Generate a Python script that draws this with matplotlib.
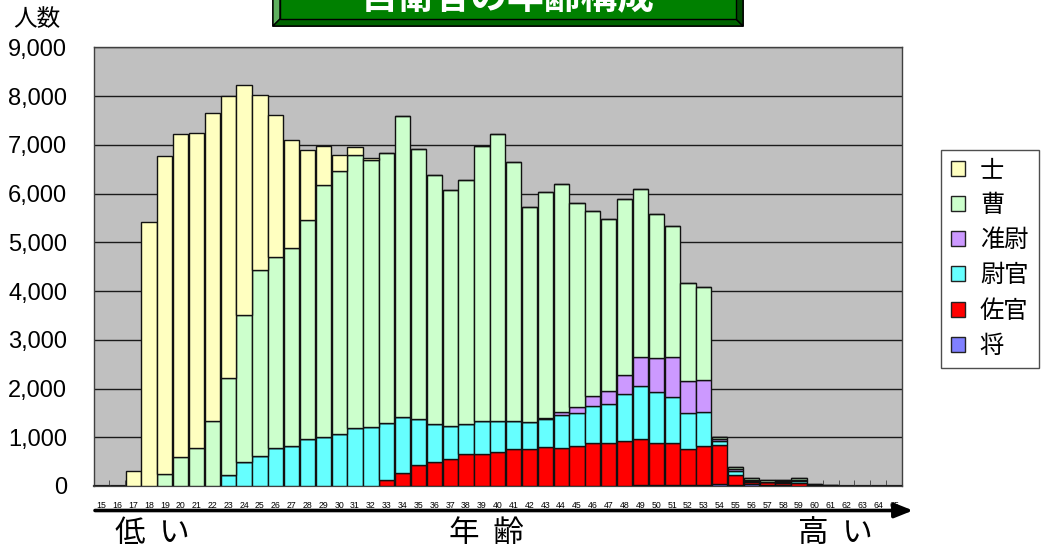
import matplotlib
matplotlib.use("Agg")
import matplotlib.pyplot as plt
from matplotlib.patches import Polygon, Patch
from matplotlib.ticker import FuncFormatter, MultipleLocator
import numpy as np

plt.rcParams['font.family'] = ['Liberation Sans', 'Noto Sans CJK JP', 'DejaVu Sans']

# ---------------- data ----------------
ages = list(range(15, 66))

def series(d):
    return [d.get(a, 0) for a in ages]

shi = series({17: 300, 18: 5420, 19: 6520, 20: 6620, 21: 6470, 22: 6320, 23: 5780,
              24: 4730, 25: 3590, 26: 2920, 27: 2200, 28: 1450, 29: 800, 30: 320,
              31: 150, 32: 30})
sou = series({19: 250, 20: 600, 21: 780, 22: 1330, 23: 1990, 24: 3000, 25: 3810,
              26: 3920, 27: 4070, 28: 4480, 29: 5170, 30: 5400, 31: 5600, 32: 5470,
              33: 5550, 34: 6180, 35: 5540, 36: 5120, 37: 4830, 38: 5000, 39: 5640,
              40: 5890, 41: 5310, 42: 4410, 43: 4640, 44: 4670, 45: 4170, 46: 3800,
              47: 3530, 48: 3620, 49: 3440, 50: 2950, 51: 2690, 52: 2020, 53: 1910,
              54: 40, 55: 45, 56: 50, 57: 40, 58: 20, 59: 40, 60: 20, 61: 10})
junni = series({43: 30, 44: 75, 45: 140, 46: 200, 47: 270, 48: 380, 49: 600, 50: 700,
                51: 830, 52: 660, 53: 660, 54: 40, 55: 40, 56: 20, 58: 30, 59: 30})
ikan = series({23: 230, 24: 500, 25: 620, 26: 770, 27: 820, 28: 970, 29: 1000,
               30: 1070, 31: 1200, 32: 1220, 33: 1170, 34: 1150, 35: 950, 36: 770,
               37: 690, 38: 620, 39: 690, 40: 640, 41: 590, 42: 570, 43: 570, 44: 680,
               45: 670, 46: 770, 47: 800, 48: 970, 49: 1080, 50: 1050, 51: 940,
               52: 740, 53: 700, 54: 75, 55: 70, 56: 20, 58: 20, 59: 40})
sakan = series({33: 120, 34: 270, 35: 430, 36: 500, 37: 550, 38: 650, 39: 650,
                40: 700, 41: 750, 42: 750, 43: 800, 44: 770, 45: 820, 46: 880, 47: 880,
                48: 920, 49: 950, 50: 860, 51: 860, 52: 730, 53: 800, 54: 790, 55: 210,
                56: 30, 57: 70, 58: 40, 59: 50, 60: 20, 61: 10})
shou = series({49: 20, 50: 20, 51: 20, 52: 20, 53: 20, 54: 50, 55: 20, 56: 50,
               57: 20, 58: 20, 59: 10})

# bottom -> top stacking order
stack_names = ['将', '佐官', '尉官', '准尉', '曹', '士']
stack_values = [shou, sakan, ikan, junni, sou, shi]
stack_colors = ['#8080FF', '#FF0000', '#66FFFF', '#CC99FF', '#CCFFCC', '#FFFFC0']

title = '自衛官の年齢構成'
ylabel = '人数'
x_words = ['低  い', '年  齢', '高  い']

# ---------------- figure ----------------
W, H = 1045, 557
fig = plt.figure(figsize=(W / 100, H / 100), dpi=100)
fig.patch.set_facecolor('white')

def fx(px):
    return px / W

def fy(py):
    return 1 - py / H

ax = fig.add_axes([fx(93.5), fy(486), fx(902) - fx(93.5), fy(47.3) - fy(486)])
ax.set_facecolor('#C0C0C0')

x = np.arange(len(ages))
bottom = np.zeros(len(ages))
for name, vals, col in zip(stack_names, stack_values, stack_colors):
    v = np.array(vals, dtype=float)
    ax.bar(x, v, bottom=bottom, width=0.96, color=col, edgecolor='#111111',
           linewidth=1.0, zorder=3)
    bottom += v

ax.set_xlim(-0.5, len(ages) - 0.5)
ax.set_ylim(0, 9000)
ax.yaxis.set_major_locator(MultipleLocator(1000))
ax.yaxis.set_major_formatter(FuncFormatter(lambda v, p: f'{int(v):,}'))
ax.grid(axis='y', color='#1a1a1a', linewidth=1.0, zorder=1)
ax.set_axisbelow(True)
ax.tick_params(axis='y', length=0, pad=19, labelsize=17)

ax.set_xticks(x)
ax.set_xticklabels([str(a) for a in ages], fontsize=6.3)
ax.set_xticks(np.arange(len(ages) + 1) - 0.5, minor=True)
ax.tick_params(axis='x', which='major', length=0, pad=11)
ax.tick_params(axis='x', which='minor', direction='in', length=4, color='#404040')

for s in ['left', 'top', 'right']:
    ax.spines[s].set_color('#404040')
    ax.spines[s].set_linewidth(1.0)
ax.spines['bottom'].set_color('#404040')
ax.spines['bottom'].set_linewidth(1.6)

# legend
handles = [Patch(facecolor=c, edgecolor='#222222', linewidth=1.0)
           for c in stack_colors[::-1]]
leg = fig.legend(handles, stack_names[::-1], loc='upper left',
                 bbox_to_anchor=(fx(941), fy(150)), frameon=True, fancybox=False,
                 fontsize=17.5, handlelength=0.58, handleheight=0.58,
                 handletextpad=0.6, labelspacing=0.52, borderpad=0.42,
                 borderaxespad=0)
leg.get_frame().set_edgecolor('#222222')
leg.get_frame().set_linewidth(1.0)

# y label
fig.text(fx(37), fy(20), ylabel, fontsize=17, ha='center', va='center',
         family=['Noto Sans CJK JP'])

# title box with bevel
L, R, B, T = 273, 743, 26, -12
bev = 7
outer = [(fx(L), fy(T)), (fx(R), fy(T)), (fx(R), fy(B)), (fx(L), fy(B))]
inner = [(fx(L + bev), fy(T)), (fx(R - bev), fy(T)), (fx(R - bev), fy(B - bev)),
         (fx(L + bev), fy(B - bev))]
fig.add_artist(Polygon(outer, closed=True, facecolor='#007000', edgecolor='black',
                       linewidth=1.2, transform=fig.transFigure))
fig.add_artist(Polygon([outer[0], inner[0], inner[3], outer[3]], closed=True,
                       facecolor='#5FAF5F', edgecolor='black', linewidth=1.0,
                       transform=fig.transFigure))
fig.add_artist(Polygon([outer[3], inner[3], inner[2], outer[2]], closed=True,
                       facecolor='#006400', edgecolor='black', linewidth=1.0,
                       transform=fig.transFigure))
fig.add_artist(Polygon([outer[2], inner[2], inner[1], outer[1]], closed=True,
                       facecolor='#004A00', edgecolor='black', linewidth=1.0,
                       transform=fig.transFigure))
fig.add_artist(Polygon(inner, closed=True, facecolor='#008000', edgecolor='black',
                       linewidth=1.0, transform=fig.transFigure))
fig.text(fx(508), fy(9), title, fontsize=26.5, color='white', fontweight='bold',
         ha='center', va='baseline', family=['Noto Sans CJK JP'])

# arrow under axis
fig.add_artist(plt.Annotation('', xy=(fx(913), fy(510.5)), xytext=(fx(95), fy(510.5)),
                              xycoords='figure fraction', textcoords='figure fraction',
                              arrowprops=dict(arrowstyle='-|>,head_length=0.55,head_width=0.22',
                                              lw=2.6, color='black', mutation_scale=20,
                                              shrinkA=0, shrinkB=0)))

for word, cx in zip(x_words, [152, 486, 835]):
    fig.text(fx(cx), fy(542), word, fontsize=22, ha='center', va='baseline',
             family=['Noto Sans CJK JP'])

fig.savefig('out.png', dpi=100, facecolor='white')
